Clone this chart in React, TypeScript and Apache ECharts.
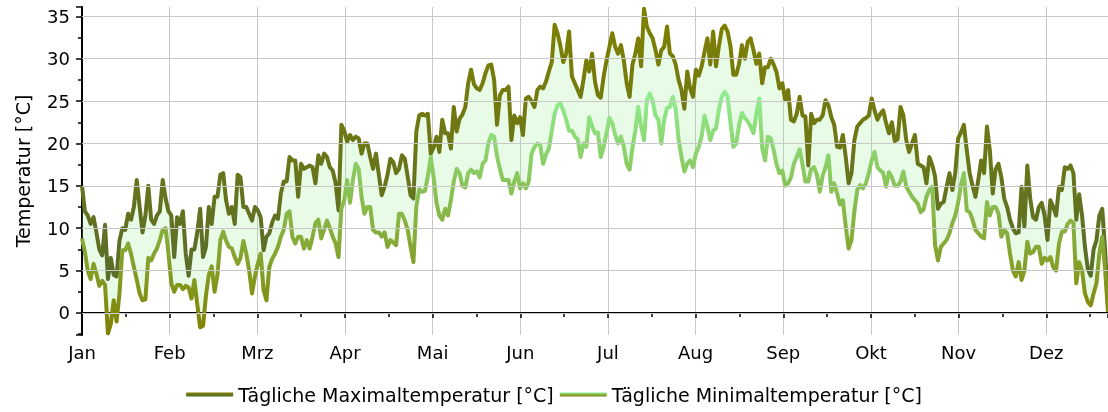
import React, { useEffect, useRef } from "react";
import * as echarts from "echarts";

const monthLabels = ["Jan", "Feb", "Mrz", "Apr", "Mai", "Jun", "Jul", "Aug", "Sep", "Okt", "Nov", "Dez"];
const yGridTicks = [0, 5, 10, 15, 20, 25, 30, 35];
const maxName = "Tägliche Maximaltemperatur [°C]";
const minName = "Tägliche Minimaltemperatur [°C]";

const tMax = [
  15.0, 12.0, 11.5, 10.5, 11.3, 9.5, 7.5, 6.8, 10.4, 4.0,
  6.5, 4.5, 4.3, 8.5, 10.0, 9.8, 11.7, 11.0, 12.5, 15.7,
  12.5, 9.5, 11.5, 15.0, 11.0, 10.5, 11.5, 12.0, 15.7, 13.5,
  12.0, 11.5, 6.6, 11.3, 10.5, 12.0, 7.0, 4.4, 7.5, 7.5,
  9.5, 12.3, 6.6, 7.8, 12.5, 10.5, 13.7, 13.7, 16.3, 16.5,
  13.3, 11.7, 12.5, 10.5, 16.3, 16.0, 12.5, 12.5, 11.7, 10.9,
  12.5, 12.1, 11.3, 7.4, 9.0, 9.4, 10.7, 11.5, 11.1, 14.1,
  15.5, 15.5, 18.4, 18.0, 18.0, 13.7, 17.6, 17.0, 17.2, 17.4,
  17.2, 15.3, 18.6, 17.6, 18.8, 18.4, 17.2, 16.8, 15.3, 12.1,
  22.2, 21.5, 20.2, 21.0, 20.4, 20.8, 20.6, 18.8, 20.0, 20.0,
  18.4, 17.0, 18.8, 16.3, 13.9, 14.9, 16.3, 18.2, 17.8, 16.5,
  17.0, 18.6, 18.2, 16.1, 13.9, 13.5, 21.4, 23.3, 23.5, 23.3,
  23.5, 18.8, 19.5, 20.8, 19.0, 22.8, 21.2, 21.2, 19.4, 24.3,
  21.4, 22.9, 23.4, 24.3, 27.1, 28.7, 27.0, 26.5, 26.3, 27.1,
  28.3, 29.2, 29.3, 27.5, 22.2, 25.7, 26.3, 26.3, 26.7, 20.4,
  23.3, 22.4, 23.1, 21.0, 25.3, 25.5, 25.0, 24.3, 26.3, 26.7,
  26.5, 27.3, 28.5, 29.6, 34.0, 33.0, 31.5, 29.6, 30.6, 33.2,
  27.9, 27.1, 26.3, 25.5, 27.5, 29.8, 28.5, 30.6, 27.3, 25.7,
  25.4, 27.9, 29.8, 31.4, 33.0, 31.4, 30.6, 31.6, 29.8, 27.1,
  25.5, 29.3, 30.6, 32.4, 29.1, 35.9, 33.8, 33.0, 32.4, 31.0,
  29.3, 31.0, 31.4, 33.8, 30.6, 30.3, 29.3, 27.5, 26.3, 24.1,
  28.5, 26.5, 25.5, 28.7, 28.0, 29.1, 30.8, 32.4, 29.3, 33.2,
  29.1, 31.5, 33.5, 33.9, 33.2, 31.5, 28.1, 28.1, 29.4, 31.6,
  30.0, 32.0, 32.4, 31.0, 29.4, 30.6, 27.1, 29.0, 29.0, 30.0,
  29.3, 28.4, 26.5, 27.1, 25.1, 26.3, 22.8, 22.6, 23.5, 25.5,
  23.3, 23.2, 17.4, 23.5, 22.4, 22.8, 22.8, 23.3, 25.1, 24.5,
  23.1, 22.2, 19.6, 19.5, 21.0, 18.4, 15.3, 16.5, 20.4, 22.0,
  22.4, 22.8, 23.0, 23.3, 25.3, 23.9, 22.8, 23.5, 23.9, 22.4,
  21.2, 22.5, 20.3, 20.5, 24.3, 23.3, 20.4, 19.0, 20.0, 21.0,
  17.6, 17.4, 17.2, 15.3, 18.4, 17.5, 16.1, 12.3, 12.9, 13.1,
  14.9, 16.5, 14.5, 16.5, 20.6, 21.3, 22.2, 19.2, 16.5, 15.0,
  13.7, 15.7, 18.0, 16.5, 22.0, 19.2, 14.1, 17.0, 17.6, 16.0,
  13.5, 12.5, 11.0, 10.0, 9.4, 9.5, 14.9, 10.2, 17.4, 13.5,
  11.3, 11.0, 12.5, 13.0, 11.5, 8.6, 13.3, 12.5, 11.5, 14.9,
  14.5, 17.2, 17.0, 17.4, 16.5, 11.0, 14.0, 11.5, 7.8, 5.2,
  4.4, 7.5, 8.6, 11.5, 12.3, 7.4, 1.0,
];

const tMin = [
  8.8, 7.2, 5.0, 4.0, 5.8, 4.6, 3.2, 3.8, 3.3, -2.4,
  -1.3, 1.5, -1.0, 2.3, 7.4, 7.4, 8.2, 7.0, 5.4, 3.9,
  2.3, 1.5, 1.6, 6.5, 6.2, 7.0, 7.6, 8.6, 9.8, 10.0,
  7.0, 3.5, 2.5, 3.3, 3.3, 2.8, 3.2, 3.0, 1.7, 3.9,
  1.0, -1.7, -1.5, 2.0, 4.5, 5.5, 2.5, 4.5, 8.6, 9.6,
  8.5, 7.8, 7.6, 6.6, 5.8, 6.5, 8.5, 7.0, 5.0, 2.3,
  4.3, 5.8, 7.0, 2.7, 1.5, 5.4, 6.4, 7.0, 7.8, 9.0,
  9.8, 11.7, 12.0, 9.0, 8.2, 9.0, 9.0, 7.6, 8.6, 7.6,
  9.0, 10.6, 11.0, 8.8, 9.8, 10.9, 10.0, 9.0, 8.2, 6.6,
  12.3, 13.3, 15.7, 13.0, 15.7, 17.6, 17.0, 13.7, 11.7, 12.5,
  12.5, 9.8, 9.5, 9.5, 9.0, 9.5, 7.8, 8.6, 8.3, 8.0,
  11.7, 11.7, 10.9, 9.8, 7.8, 6.0, 12.5, 14.6, 14.3, 14.4,
  16.1, 18.4, 16.0, 13.0, 11.5, 11.0, 12.3, 11.5, 13.3, 15.5,
  17.0, 16.5, 15.0, 14.8, 16.5, 16.9, 16.5, 16.7, 16.0, 17.6,
  18.0, 20.0, 21.0, 20.8, 18.5, 17.0, 15.7, 15.7, 15.7, 14.1,
  15.5, 16.5, 14.7, 15.3, 14.7, 15.5, 18.8, 19.6, 20.0, 19.8,
  17.6, 18.7, 19.4, 21.5, 23.5, 24.5, 24.7, 23.9, 22.8, 21.5,
  21.5, 20.8, 20.5, 18.4, 20.0, 19.6, 23.1, 22.0, 21.2, 21.3,
  18.4, 19.6, 21.2, 23.0, 22.4, 21.0, 20.0, 20.8, 19.6, 17.6,
  16.9, 19.5, 21.5, 24.3, 22.0, 20.4, 25.1, 25.9, 25.0, 23.3,
  22.8, 20.0, 22.8, 24.2, 24.3, 25.5, 24.0, 20.5, 18.4, 16.7,
  17.6, 18.0, 17.2, 18.8, 19.6, 20.8, 23.3, 22.0, 20.4, 21.5,
  21.8, 24.0, 25.5, 26.1, 25.5, 22.5, 19.6, 20.0, 22.2, 23.6,
  23.0, 22.6, 22.0, 21.2, 23.5, 25.3, 19.5, 18.0, 20.8, 20.6,
  19.2, 17.5, 16.5, 16.8, 15.0, 15.3, 16.0, 17.6, 18.4, 19.3,
  17.5, 15.5, 15.5, 17.0, 17.2, 16.3, 14.3, 16.2, 17.2, 18.6,
  14.3, 15.3, 14.1, 12.8, 13.3, 10.2, 7.6, 8.6, 12.0, 14.5,
  15.1, 14.7, 15.3, 16.5, 18.0, 19.0, 17.2, 16.8, 16.5, 14.9,
  16.6, 16.0, 15.0, 15.0, 15.5, 16.7, 14.9, 14.3, 13.7, 13.3,
  12.9, 11.9, 12.2, 13.7, 14.5, 14.9, 8.0, 6.2, 7.8, 8.2,
  8.6, 9.4, 10.6, 11.5, 13.0, 15.1, 16.5, 12.1, 11.9, 11.0,
  9.8, 9.4, 9.0, 8.8, 13.1, 11.5, 12.5, 12.5, 11.7, 9.0,
  9.8, 9.4, 7.0, 5.0, 4.3, 6.0, 3.9, 5.0, 8.4, 7.0,
  7.2, 7.8, 7.8, 5.8, 6.5, 6.2, 6.6, 5.4, 5.0, 8.2,
  9.6, 9.6, 10.5, 10.9, 10.6, 3.5, 6.0, 5.0, 2.3, 1.3,
  0.9, 2.3, 3.5, 7.0, 9.0, 5.0, 0.1,
];

export default function App() {
  const ref = useRef<HTMLDivElement>(null);

  useEffect(() => {
    if (!ref.current) return;
    const chart = echarts.init(ref.current, null, { renderer: "svg" });
    const font = "DejaVu Sans";
    const monthStep = 365 / 12;
    const pairs = (arr: number[]) => arr.map((v, i) => [i, v]);

    const maxGrad = {
      type: "linear", x: 0, y: 1, x2: 0, y2: 0,
      colorStops: [
        { offset: 0, color: "#556B2F" },
        { offset: 1, color: "#808000" },
      ],
    };
    const minGrad = {
      type: "linear", x: 0, y: 1, x2: 0, y2: 0,
      colorStops: [
        { offset: 0, color: "#808000" },
        { offset: 1, color: "#90EE90" },
      ],
    };

    chart.setOption({
      animation: false,
      grid: { left: 82, right: 0, top: 7, bottom: 77, containLabel: false },
      legend: {
        data: [maxName, minName],
        left: "center",
        top: 380,
        icon: "rect",
        itemWidth: 47,
        itemHeight: 4,
        itemGap: 6,
        textStyle: { fontFamily: font, fontSize: 19, color: "#000" },
      },
      xAxis: {
        type: "value",
        min: 0,
        max: tMax.length - 1,
        interval: monthStep,
        axisLine: { show: true, lineStyle: { color: "#000", width: 2 } },
        axisTick: { show: true, length: 5, lineStyle: { color: "#000", width: 1.5 } },
        minorTick: { show: true, splitNumber: 2, length: 4, lineStyle: { color: "#000", width: 1.5 } },
        axisLabel: {
          formatter: (v: number) => monthLabels[Math.round(v / monthStep)] ?? "",
          showMaxLabel: false,
          fontFamily: font,
          fontSize: 18,
          color: "#000",
          margin: 8,
        },
        splitLine: { show: true, lineStyle: { color: "#c8c8c8", width: 1 } },
      },
      yAxis: {
        type: "value",
        min: -2.6,
        max: 36.1,
        splitNumber: 8,
        name: "Temperatur [°C]",
        nameLocation: "middle",
        nameGap: 50,
        nameTextStyle: { fontFamily: font, fontSize: 19, color: "#000" },
        axisLine: { show: true, lineStyle: { color: "#000", width: 2 } },
        axisTick: { show: true, length: 6, lineStyle: { color: "#000", width: 1.5 } },
        minorTick: { show: true, splitNumber: 2, length: 4, lineStyle: { color: "#000", width: 1.5 } },
        axisLabel: {
          showMinLabel: false,
          showMaxLabel: false,
          fontFamily: font,
          fontSize: 18,
          color: "#000",
          margin: 12,
        },
        splitLine: { show: false },
      },
      series: [
        {
          name: "_band",
          type: "custom",
          silent: true,
          data: [[0, tMin[0]]],
          z: 1,
          renderItem: (_params: any, api: any) => {
            const pts: number[][] = [];
            for (let i = 0; i < tMax.length; i++) pts.push(api.coord([i, tMax[i]]));
            for (let i = tMin.length - 1; i >= 0; i--) pts.push(api.coord([i, tMin[i]]));
            return {
              type: "polygon",
              shape: { points: pts },
              style: { fill: "rgba(144,238,144,0.22)", stroke: "none" },
              silent: true,
            };
          },
          markLine: {
            silent: true,
            symbol: "none",
            label: { show: false },
            lineStyle: { color: "#c8c8c8", width: 1, type: "solid" },
            data: yGridTicks.map((v) => ({ yAxis: v })),
          },
        },
        {
          name: maxName,
          type: "line",
          data: pairs(tMax),
          symbol: "none",
          showSymbol: false,
          lineStyle: { width: 4, color: maxGrad, join: "round" },
          itemStyle: { color: maxGrad },
          z: 3,
        },
        {
          name: minName,
          type: "line",
          data: pairs(tMin),
          symbol: "none",
          showSymbol: false,
          lineStyle: { width: 4, color: minGrad, join: "round" },
          itemStyle: { color: minGrad },
          z: 3,
        },
      ],
    });

    return () => chart.dispose();
  }, []);

  return (
    <div
      ref={ref}
      style={{ position: "fixed", left: 0, top: 0, width: 1108, height: 412 }}
    />
  );
}
